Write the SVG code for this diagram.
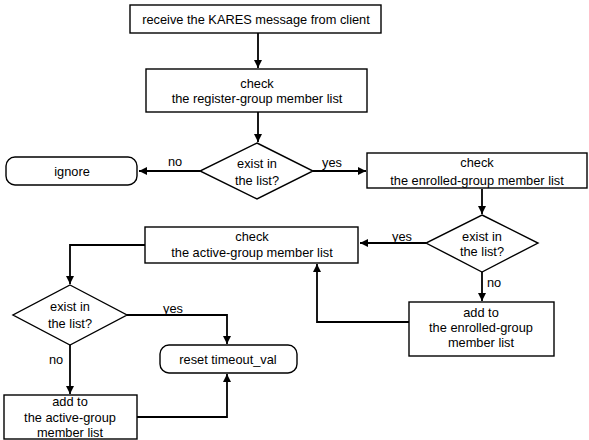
<svg xmlns="http://www.w3.org/2000/svg" width="589" height="440" viewBox="0 0 589 440">
<defs>
<marker id="ah" viewBox="0 0 10 10" refX="10" refY="5" markerWidth="8" markerHeight="8" markerUnits="userSpaceOnUse" orient="auto">
<path d="M0,0 L10,5 L0,10 z" fill="#000"/>
</marker>
<style>
.box{fill:#fff;stroke:#000;stroke-width:1.4}
.ar{fill:none;stroke:#000;stroke-width:1.8;marker-end:url(#ah)}
text{font-family:"Liberation Sans",Arial,sans-serif;font-size:12.8px;fill:#000;text-anchor:middle}
</style>
</defs>
<rect width="589" height="440" fill="#fff"/>
<g id="connectors">
<path class="ar" d="M258,33 V68"/>
<path class="ar" d="M258,112 V142"/>
<path class="ar" d="M200,171 H139"/>
<path class="ar" d="M313,171 H366"/>
<path class="ar" d="M482,189 V214"/>
<path class="ar" d="M426,243 H360"/>
<path class="ar" d="M482,272 V301"/>
<path class="ar" d="M409,322 H317 V264"/>
<path class="ar" d="M145,245 H70 V284"/>
<path class="ar" d="M127,315 H227 V344"/>
<path class="ar" d="M70,345 V394"/>
<path class="ar" d="M137,417 H227 V374"/>
<text x="175" y="166">no</text>
<text x="332" y="167">yes</text>
<text x="402" y="241">yes</text>
<text x="494" y="287">no</text>
<text x="173" y="313">yes</text>
<text x="56" y="364">no</text>
</g>
<g id="receive">
<rect class="box" x="130" y="5" width="251" height="28"/>
<text x="256" y="23.5">receive the KARES message from client</text>
</g>
<g id="check-register">
<rect class="box" x="146" y="69" width="221" height="43"/>
<text x="257" y="87.5">check</text>
<text x="257" y="102.5">the register-group member list</text>
</g>
<g id="exist1">
<polygon class="box" points="257,143 313,171 257,199 200,171"/>
<text x="257" y="168">exist in</text>
<text x="257" y="185">the list?</text>
</g>
<g id="ignore">
<rect class="box" x="6" y="157" width="131" height="28" rx="9"/>
<text x="72" y="175.5">ignore</text>
</g>
<g id="check-enrolled">
<rect class="box" x="367" y="153" width="220" height="35"/>
<text x="477" y="167">check</text>
<text x="477" y="185">the enrolled-group member list</text>
</g>
<g id="exist2">
<polygon class="box" points="482,215 538,243 482,272 426,243"/>
<text x="482" y="241">exist in</text>
<text x="482" y="256">the list?</text>
</g>
<g id="check-active">
<rect class="box" x="145" y="227" width="213" height="36"/>
<text x="252" y="241">check</text>
<text x="252" y="257">the active-group member list</text>
</g>
<g id="add-enrolled">
<rect class="box" x="409" y="302" width="145" height="54"/>
<text x="481" y="317">add to</text>
<text x="481" y="332">the enrolled-group</text>
<text x="481" y="347">member list</text>
</g>
<g id="exist3">
<polygon class="box" points="70,285 127,315 70,345 13,315"/>
<text x="70" y="311">exist in</text>
<text x="70" y="328">the list?</text>
</g>
<g id="reset">
<rect class="box" x="160" y="345" width="137" height="28" rx="9"/>
<text x="228" y="363.5">reset timeout_val</text>
</g>
<g id="add-active">
<rect class="box" x="4" y="395" width="133" height="44"/>
<text x="70" y="406">add to</text>
<text x="70" y="422">the active-group</text>
<text x="70" y="437">member list</text>
</g>
</svg>
